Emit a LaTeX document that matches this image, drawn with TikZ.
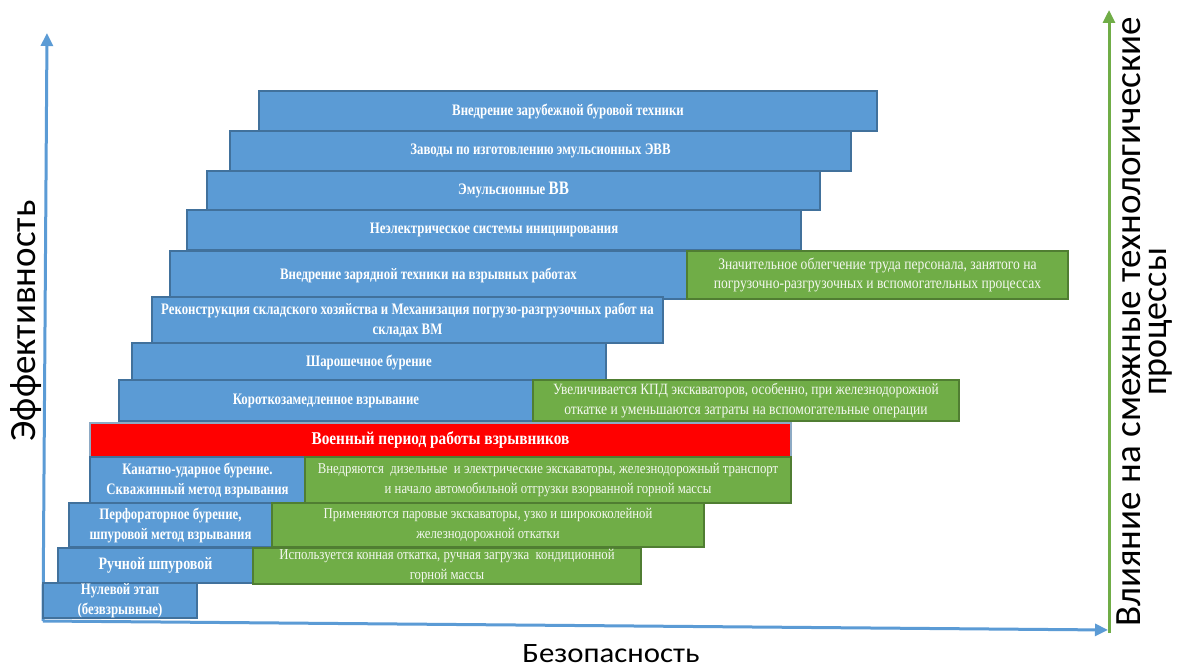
\documentclass[tikz,border=0pt]{standalone}
\usepackage{fontspec}
\setmainfont{Liberation Serif}
\newfontfamily\condf[FakeStretch=0.85]{Liberation Serif}
\newfontfamily\condb[FakeStretch=0.8]{Liberation Serif}
\newfontfamily\axf{Carlito}
\newfontfamily\axw[FakeStretch=1.1]{Carlito}
\usetikzlibrary{arrows.meta}
\definecolor{bfill}{HTML}{5B9BD5}
\definecolor{bline}{HTML}{41719C}
\definecolor{gfill}{HTML}{70AD47}
\definecolor{gline}{HTML}{507E32}
\tikzset{
  base/.style={draw, line width=1.2pt, inner sep=0pt, align=center, text=white},
  bluebox/.style={base, fill=bfill, draw=bline, font=\condb\bfseries\fontsize{16}{20}\selectfont},
  greenbox/.style={base, fill=gfill, draw=gline, text=white!92!gfill, font=\condf\fontsize{16}{19.5}\selectfont},
  greensmall/.style={greenbox, font=\condf\fontsize{15}{19.5}\selectfont},
  redbox/.style={base, fill=red, draw=bline!60, font=\condf\bfseries\fontsize{18}{20}\selectfont},
  axisarrow/.style={line width=3pt, -{Triangle[length=13pt,width=12pt]}},
  axislabel/.style={font=\axf, text=black, inner sep=0pt},
}
\newcommand\bx[7]{\node[#1, minimum width={(#5-#3)*1pt}, minimum height={(#6-#4)*1pt}] (#2) at ({(#3+#5)/2},{(#4+#6)/2}) {#7};}
\begin{document}
\begin{tikzpicture}[x=1pt,y=-1pt]
\fill[white] (0,0) rectangle (1178,669);
\useasboundingbox (0,0) rectangle (1178,669);
% axes
\coordinate (o) at (43,621);
\coordinate (ytop) at (47,33);
\coordinate (xend) at (1108,630);
\coordinate (gbot) at (1109,633);
\coordinate (gtop) at (1109,10);
\draw[axisarrow, draw=gfill, fill=gfill] (gbot) -- (gtop);
\draw[axisarrow, draw=bfill, fill=bfill] (o) -- (ytop);
\draw[axisarrow, draw=bfill, fill=bfill] (o) -- (xend);
% boxes
\bx{bluebox}{b1}{259}{91}{877}{131}{Внедрение зарубежной буровой техники}
\bx{bluebox}{b2}{230}{131}{851}{171}{Заводы по изготовлению эмульсионных ЭВВ}
\bx{bluebox}{b3}{207}{171}{820}{210}{Эмульсионные {\fontsize{19}{20}\selectfont ВВ}}
\bx{bluebox}{b4}{187}{210}{801}{250}{Неэлектрическое системы инициирования}
\bx{bluebox}{b5}{170}{251}{687}{299}{Внедрение зарядной техники на взрывных работах}
\bx{greenbox}{g5}{687}{251}{1068}{299}{Значительное облегчение труда персонала, занятого на\\погрузочно-разгрузочных и вспомогательных процессах}
\bx{bluebox}{b6}{152}{297}{663}{343}{Реконструкция складского хозяйства и Механизация погрузо-разгрузочных работ на\\складах ВМ}
\bx{bluebox}{b7}{132}{343}{606}{381}{Шарошечное бурение}
\bx{bluebox}{b8}{119}{380}{533}{421}{Короткозамедленное взрывание}
\bx{greenbox}{g8}{533}{380}{959}{421}{\fontsize{15.7}{19.5}\selectfont Увеличивается КПД экскаваторов, особенно, при железнодорожной\\откатке и уменьшаются затраты на вспомогательные операции}
\bx{redbox}{r}{90}{423}{791}{457}{Военный период работы взрывников}
\bx{bluebox}{b9}{90}{457}{305}{503}{Канатно-ударное бурение.\\Скважинный метод взрывания}
\bx{greensmall}{g9}{305}{457}{791}{503}{Внедряются\ \ дизельные\ \ и электрические экскаваторы, железнодорожный транспорт\\и начало автомобильной отгрузки взорванной горной массы}
\bx{bluebox}{b10}{69}{503}{272}{547}{Перфораторное бурение,\\шпуровой метод взрывания}
\bx{greensmall}{g10}{272}{503}{704}{547}{Применяются паровые экскаваторы, узко и ширококолейной\\железнодорожной откатки}
\bx{bluebox}{b11}{58}{548}{253}{583}{{\fontsize{17.5}{20}\selectfont Ручной шпуровой}}
\bx{greensmall}{g11}{253}{548}{641}{584}{Используется конная откатка, ручная загрузка\ \ кондиционной\\горной массы}
\bx{bluebox}{b12}{43}{583}{197}{618}{\fontsize{16}{15.5}\selectfont Нулевой этап\\(безвзрывные)}
% axis labels
\node[axislabel, rotate=90, anchor=base, font=\axf\fontsize{37}{40}\selectfont] (eff) at (35,321) {Эффективность};
\node[axislabel, anchor=base, font=\axw\fontsize{28}{32}\selectfont] (saf) at (611,662) {Безопасность};
\node[axislabel, rotate=90, anchor=base, font=\axf\fontsize{37}{40}\selectfont] (inf1) at (1140,322) {Влияние на смежные технологические};
\node[axislabel, rotate=90, anchor=base, font=\axf\fontsize{36}{40}\selectfont] (inf2) at (1166,322) {процессы};
\end{tikzpicture}
\end{document}
